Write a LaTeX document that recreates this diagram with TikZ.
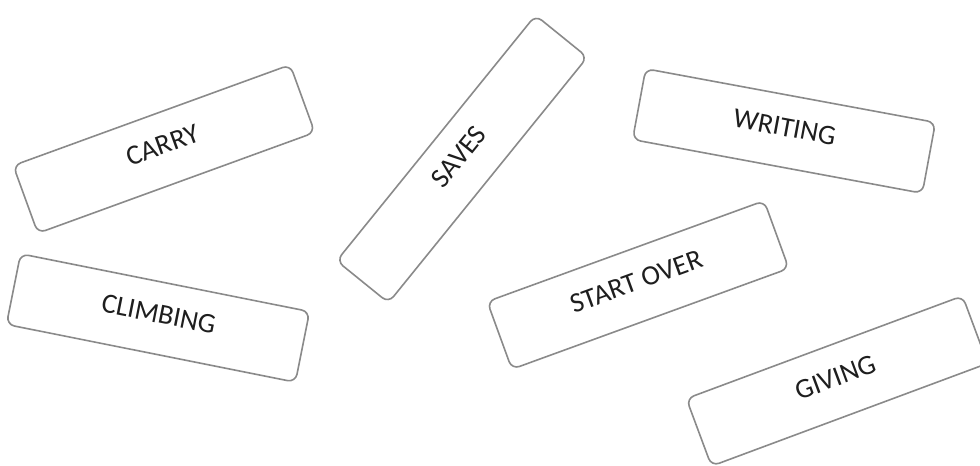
\documentclass[tikz,border=0pt]{standalone}
\usepackage{fontspec}
\setmainfont{Carlito}
\usetikzlibrary{positioning}
\definecolor{cardgray}{HTML}{8A8A8A}
\definecolor{inkgray}{HTML}{1E1E1E}
\tikzset{
    card/.style={rectangle, draw=cardgray, line width=1.2pt, fill=white, rounded corners=6pt, minimum width=221pt, minimum height=54pt, inner sep=0pt, text depth=6pt, text=inkgray, font=\fontsize{21}{24}\selectfont}
}

\begin{document}
\begin{tikzpicture}[x=0.75pt, y=-0.75pt]
        \useasboundingbox (0,0) rectangle (980,466);
        \node[card, rotate=20] (carry) at (164,149) {CARRY};
        \node[card, rotate=-11.3] (climbing) at (158,318) {CLIMBING};
        \node[card, rotate=51, minimum width=237pt, minimum height=50pt] (saves) at (462,159) {SAVES};
        \node[card, rotate=-10.5] (writing) at (784,131) {WRITING};
        \node[card, rotate=20] (startover) at (638,285) {START OVER};
        \node[card, rotate=20.4] (giving) at (837,381) {GIVING};
    \end{tikzpicture}
\end{document}
